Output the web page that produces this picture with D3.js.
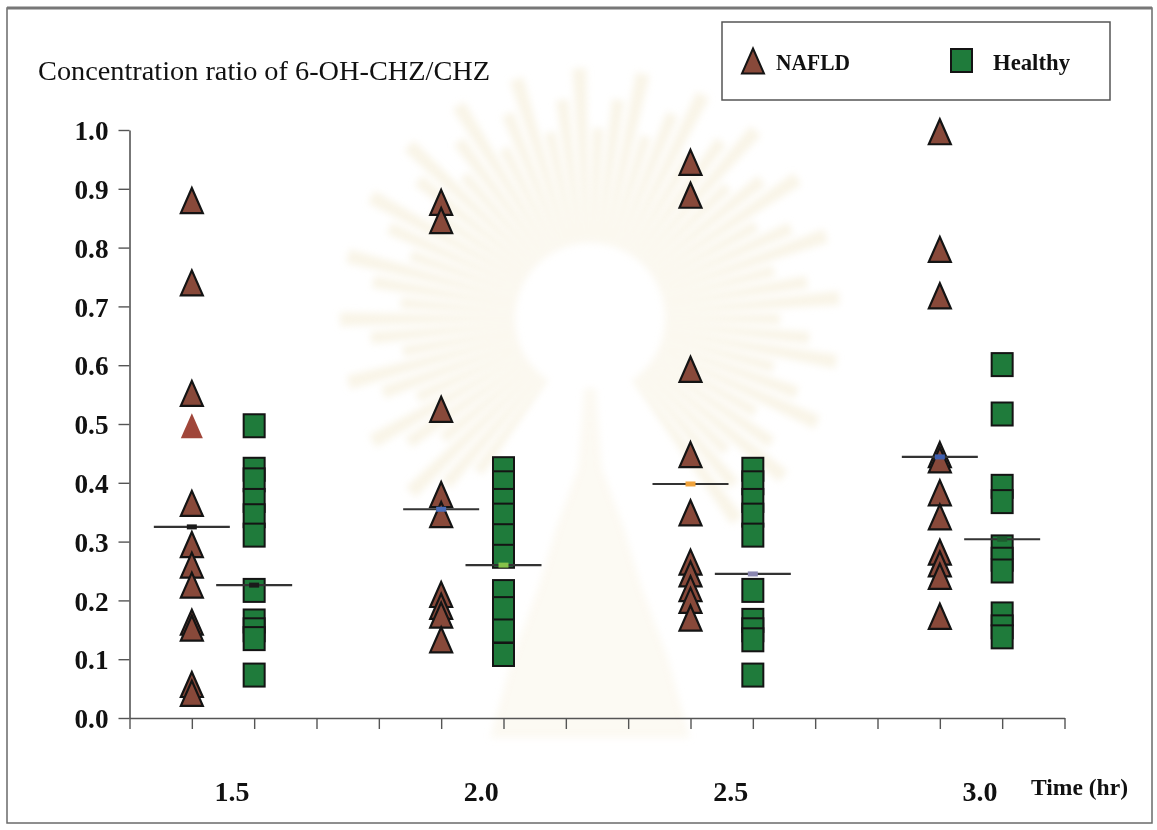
<!DOCTYPE html>
<html>
<head>
<meta charset="utf-8">
<script src="https://cdn.jsdelivr.net/npm/d3@7"></script>
<style>
  html, body { margin: 0; padding: 0; background: #fff; }
  svg { display: block; }
  text { font-family: "Liberation Serif", "DejaVu Serif", serif; fill: #111; }
</style>
</head>
<body>
<svg id="chart" width="1157" height="830"></svg>
<script>
// Time points (hours) and their group positions along the x axis
const timeLabels = ["1.5", "2.0", "2.5", "3.0"];
const nafldSlot = [1, 5, 9, 13];
const healthySlot = [2, 6, 10, 14];

// Concentration ratio of 6-OH-CHZ/CHZ per subject
const nafld15 = [0.88, 0.74, 0.552, 0.365, 0.295, 0.26, 0.226, 0.163, 0.153, 0.057, 0.042];
const nafld20 = [0.877, 0.846, 0.525, 0.38, 0.346, 0.21, 0.19, 0.175, 0.133];
const nafld25 = [0.945, 0.889, 0.593, 0.448, 0.349, 0.265, 0.245, 0.22, 0.2, 0.17];
const nafld30 = [0.997, 0.797, 0.718, 0.448, 0.439, 0.383, 0.342, 0.282, 0.262, 0.241, 0.173];

const healthy15 = [0.497, 0.423, 0.405, 0.37, 0.344, 0.311, 0.217, 0.165, 0.15, 0.135, 0.073];
const healthy20 = [0.424, 0.4, 0.37, 0.345, 0.31, 0.275, 0.215, 0.186, 0.148, 0.108];
const healthy25 = [0.423, 0.4, 0.37, 0.345, 0.311, 0.217, 0.166, 0.15, 0.133, 0.073];
const healthy30 = [0.601, 0.517, 0.394, 0.368, 0.291, 0.27, 0.25, 0.177, 0.155, 0.138];

// Subject plotted without outline in the 1.5 h NAFLD group
const nafldPlain = [[0.497], [], [], []];

// Group mean values (horizontal bars)
const nafldMean = [0.325, 0.355, 0.398, 0.444];
const healthyMean = [0.226, 0.26, 0.245, 0.304];
const nafldMeanDot = ["#1a1a1a", "#4a6db8", "#f0a33c", "#3f5fb0"];
const healthyMeanDot = ["#1a1a1a", "#86c24a", "#8a86b0", "#1d5a2e"];

const yTicks = [0, 0.1, 0.2, 0.3, 0.4, 0.5, 0.6, 0.7, 0.8, 0.9, 1.0];

const nafldGroups = [nafld15, nafld20, nafld25, nafld30];
const healthyGroups = [healthy15, healthy20, healthy25, healthy30];

const svg = d3.select("#chart");

// soft, faint sunburst emblem printed behind the plot
svg.append("defs").append("filter")
  .attr("id", "soft").attr("x", "-20%").attr("y", "-20%").attr("width", "140%").attr("height", "140%")
  .append("feGaussianBlur").attr("stdDeviation", 3.5);
const emblem = svg.append("g")
  .attr("transform", "translate(590,318)")
  .attr("filter", "url(#soft)")
  .attr("opacity", 0.5);
const rayCount = 60;
const rayArc = d3.arc();
d3.range(rayCount).forEach(k => {
  const a0 = -Math.PI * 0.8 + k * (Math.PI * 1.6 / (rayCount - 1));
  emblem.append("path")
    .attr("d", rayArc({ innerRadius: 75, outerRadius: 190 + (k % 3) * 30,
                        startAngle: a0 - 0.028, endAngle: a0 + 0.028 }))
    .attr("fill", "#f3ead0");
});
emblem.append("path")
  .attr("d", "M-6,70 L6,70 L12,150 L34,210 L52,270 L78,340 L100,420 L-100,420 L-78,340 L-52,270 L-34,210 L-12,150 Z")
  .attr("fill", "#f6efdc").attr("opacity", 0.7);

// page frame
svg.append("rect")
  .attr("x", 7).attr("y", 8).attr("width", 1145).attr("height", 815)
  .attr("fill", "none").attr("stroke", "#6a6a6a").attr("stroke-width", 1.5);
svg.append("line")
  .attr("x1", 7).attr("x2", 1152).attr("y1", 8).attr("y2", 8)
  .attr("stroke", "#777").attr("stroke-width", 3);

const x = d3.scaleLinear().domain([0, 15]).range([129.5, 1064.5]);
const y = d3.scaleLinear().domain([0, 1]).range([718, 130]);

// axes
const xAxis = svg.append("g")
  .attr("transform", `translate(0,${y(0)})`)
  .call(d3.axisBottom(x).tickValues(d3.range(0, 16)).tickSize(11).tickSizeOuter(0).tickFormat(""));
const yAxis = svg.append("g")
  .attr("transform", `translate(${x(0)},0)`)
  .call(d3.axisLeft(y).tickValues(yTicks).tickSize(11).tickSizeOuter(0).tickFormat(d3.format(".1f")));

[xAxis, yAxis].forEach(g => {
  g.select(".domain").attr("stroke", "#555").attr("stroke-width", 1.6);
  g.selectAll(".tick line").attr("stroke", "#555").attr("stroke-width", 1.4);
});
yAxis.selectAll(".tick text")
  .attr("x", -21)
  .attr("dy", "0.36em")
  .style("font-family", "'Liberation Serif', serif")
  .style("font-size", "27px")
  .style("font-weight", "bold")
  .attr("fill", "#111")
  .attr("textLength", 34)
  .attr("lengthAdjust", "spacingAndGlyphs");

// time labels under each pair of groups
svg.append("g").selectAll("text")
  .data(timeLabels)
  .join("text")
  .attr("x", (d, i) => x((nafldSlot[i] + healthySlot[i]) / 2) + 9)
  .attr("y", 801)
  .attr("text-anchor", "middle")
  .style("font-size", "27px")
  .style("font-weight", "bold")
  .attr("textLength", 35)
  .attr("lengthAdjust", "spacingAndGlyphs")
  .text(d => d);

svg.append("text")
  .attr("x", 1031).attr("y", 795)
  .style("font-size", "23px").style("font-weight", "bold")
  .attr("textLength", 97).attr("lengthAdjust", "spacingAndGlyphs")
  .text("Time (hr)");

// axis title
svg.append("text")
  .attr("x", 38).attr("y", 80)
  .style("font-size", "27px")
  .attr("textLength", 452).attr("lengthAdjust", "spacingAndGlyphs")
  .text("Concentration ratio of 6-OH-CHZ/CHZ");

// marker shapes
const triPath = "M0,-12.5L11,12.5L-11,12.5Z";
const sqW = 21, sqH = 23;
const triFill = "#88493a";
const sqFill = "#1f7b3b";

// healthy squares
healthyGroups.forEach((vals, i) => {
  svg.append("g").selectAll("rect")
    .data(vals)
    .join("rect")
    .attr("x", x(healthySlot[i]) - sqW / 2)
    .attr("y", d => y(d) - sqH / 2)
    .attr("width", sqW).attr("height", sqH)
    .attr("fill", sqFill)
    .attr("stroke", "#141414").attr("stroke-width", 2);
});

// NAFLD triangles
nafldGroups.forEach((vals, i) => {
  svg.append("g").selectAll("path")
    .data(vals)
    .join("path")
    .attr("transform", d => `translate(${x(nafldSlot[i])},${y(d)})`)
    .attr("d", triPath)
    .attr("fill", triFill)
    .attr("stroke", "#141414").attr("stroke-width", 2.2)
    .attr("stroke-linejoin", "miter");
  svg.append("g").selectAll("path")
    .data(nafldPlain[i])
    .join("path")
    .attr("transform", d => `translate(${x(nafldSlot[i])},${y(d)})`)
    .attr("d", triPath)
    .attr("fill", "#a0463a");
});

// group mean bars
function meanBars(means, slots, dots) {
  const g = svg.append("g");
  g.selectAll("line")
    .data(means)
    .join("line")
    .attr("x1", (d, i) => x(slots[i]) - 38)
    .attr("x2", (d, i) => x(slots[i]) + 38)
    .attr("y1", d => y(d)).attr("y2", d => y(d))
    .attr("stroke", "#333").attr("stroke-width", 2.2);
  g.selectAll("rect")
    .data(means)
    .join("rect")
    .attr("x", (d, i) => x(slots[i]) - 5)
    .attr("y", d => y(d) - 2.5)
    .attr("width", 10).attr("height", 5)
    .attr("fill", (d, i) => dots[i]);
}
meanBars(nafldMean, nafldSlot, nafldMeanDot);
meanBars(healthyMean, healthySlot, healthyMeanDot);

// legend
const legend = svg.append("g");
legend.append("rect")
  .attr("x", 722).attr("y", 22).attr("width", 388).attr("height", 78)
  .attr("fill", "#fff").attr("stroke", "#555").attr("stroke-width", 1.5);
legend.append("path")
  .attr("transform", "translate(753,61)")
  .attr("d", triPath)
  .attr("fill", triFill).attr("stroke", "#141414").attr("stroke-width", 2);
legend.append("text")
  .attr("x", 776).attr("y", 70)
  .style("font-size", "23px").style("font-weight", "bold")
  .attr("textLength", 74).attr("lengthAdjust", "spacingAndGlyphs")
  .text("NAFLD");
legend.append("rect")
  .attr("x", 951).attr("y", 49).attr("width", sqW).attr("height", sqH)
  .attr("fill", sqFill).attr("stroke", "#141414").attr("stroke-width", 2);
legend.append("text")
  .attr("x", 993).attr("y", 70)
  .style("font-size", "23px").style("font-weight", "bold")
  .attr("textLength", 77).attr("lengthAdjust", "spacingAndGlyphs")
  .text("Healthy");
</script>
</body>
</html>
